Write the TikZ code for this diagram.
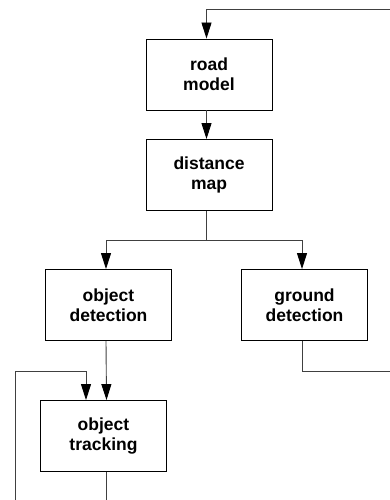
\documentclass[tikz,border=0pt]{standalone}
\usepackage{fontspec}
\setmainfont{Liberation Sans}
\usetikzlibrary{arrows.meta}
\begin{document}
\begin{tikzpicture}[x=1pt,y=-1pt,
  box/.style={draw=black, line width=0.9pt, minimum width=126pt, minimum height=71pt,
    align=center, inner sep=0pt, font=\bfseries\fontsize{17.5}{20}\selectfont},
  conn/.style={draw=black!75, line width=0.9pt},
  arr/.style={conn, -{Triangle[length=16pt,width=10pt,fill=black,color=black]}}]
\useasboundingbox (0,0) rectangle (390,500);
\node[box] (road) at (209,74.5) {road\\model};
\node[box] (dist) at (209,175) {distance\\map};
\node[box] (odet) at (108.5,305) {object\\detection};
\node[box] (gdet) at (304.5,305) {ground\\detection};
\node[box] (otrk) at (103.5,436) {object\\tracking};
\coordinate (topR) at (390,9.5);
\coordinate (split) at (206.5,240);
\coordinate (gR) at (390,371);
\coordinate (loopTop) at (15,371);
\coordinate (loopBot) at (15,500);
\coordinate (trkBot) at (106.5,500);
\draw[arr] (topR) -| ([xshift=-2.5pt]road.north);
\draw[arr] ([xshift=-2.5pt]road.south) -- ([xshift=-2.5pt]dist.north);
\draw[conn] ([xshift=-2.5pt]dist.south) -- (split);
\draw[arr] (split) -| ([xshift=-2.5pt]odet.north);
\draw[arr] (split) -| ([xshift=-2.5pt]gdet.north);
\draw[arr] ([xshift=-2.5pt]odet.south) -- ([xshift=3pt]otrk.north);
\draw[conn] ([xshift=-2.5pt]gdet.south) |- (gR);
\draw[arr] (loopBot) -- (loopTop) -| ([xshift=-17.5pt]otrk.north);
\draw[conn] ([xshift=3pt]otrk.south) -- (trkBot);
\end{tikzpicture}
\end{document}
